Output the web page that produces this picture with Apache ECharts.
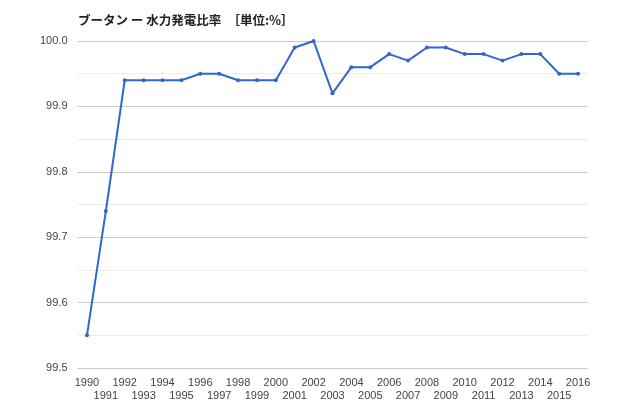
<!DOCTYPE html>
<html><head><meta charset="utf-8">
<script src="https://cdn.jsdelivr.net/npm/echarts@6/dist/echarts.min.js"></script>
<style>html,body{margin:0;padding:0;background:#fff}#c{width:640px;height:411px}</style>
</head><body><div id="c"></div>
<script>
var years = ['1990','1991','1992','1993','1994','1995','1996','1997','1998','1999','2000','2001','2002','2003','2004','2005','2006','2007','2008','2009','2010','2011','2012','2013','2014','2015','2016'];
var ratio = [99.55,99.74,99.94,99.94,99.94,99.94,99.95,99.95,99.94,99.94,99.94,99.99,100.0,99.92,99.96,99.96,99.98,99.97,99.99,99.99,99.98,99.98,99.97,99.98,99.98,99.95,99.95];
var chart = echarts.init(document.getElementById('c'));
chart.setOption({
  animation:false,
  title:{text:'ブータン ー 水力発電比率　［単位:%］',left:73,top:9,textStyle:{fontSize:12.5,fontWeight:'bold',color:'#222',fontFamily:'Noto Sans CJK JP'}},
  grid:{left:77.5,right:52.5,top:41,bottom:43},
  xAxis:{type:'category',data:years,boundaryGap:true,
    axisLine:{show:false},axisTick:{show:false},
    axisLabel:{interval:0,fontSize:11,color:'#444',margin:8,lineHeight:13,fontFamily:'Arial',
      formatter:function(v,i){return i%2===1?'\n'+v:v+'\n';}}},
  yAxis:{type:'value',min:99.5,max:100,interval:0.1,
    axisLine:{show:false},axisTick:{show:false},
    axisLabel:{fontSize:11,color:'#444',margin:10,fontFamily:'Arial',formatter:function(v){return v.toFixed(1);}},
    splitLine:{lineStyle:{color:'#cccccc',width:1}},
    minorTick:{show:false,splitNumber:2},
    minorSplitLine:{show:true,lineStyle:{color:'#ebebeb',width:1}}},
  series:[{type:'line',data:ratio,symbol:'circle',symbolSize:4,
    lineStyle:{color:'#3366cc',width:2},itemStyle:{color:'#3366cc'}}]
});
</script></body></html>
